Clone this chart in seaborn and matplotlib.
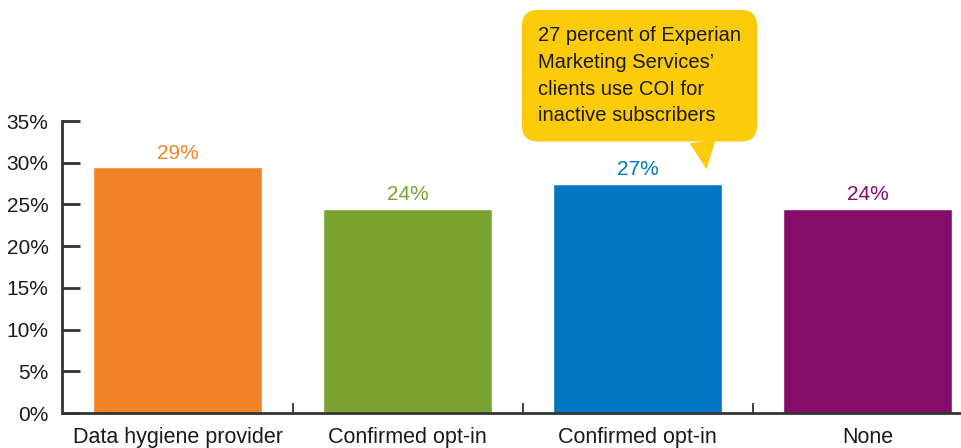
import numpy as np
import pandas as pd
import matplotlib.pyplot as plt
import seaborn as sns

# Data
categories = ['Data hygiene provider', 'Confirmed opt-in', 'Confirmed opt-in', 'None']
values = [29.5, 24.5, 27.5, 24.5]
value_labels = ['29%', '24%', '27%', '24%']
colors = ['#F28226', '#7AA332', '#0077C0', '#850C6A']
yticks = [0, 5, 10, 15, 20, 25, 30, 35]
callout = "27 percent of Experian\nMarketing Services\u2019\nclients use COI for\ninactive subscribers"

sns.set_style('white')
plt.rcParams['font.family'] = ['Liberation Sans', 'DejaVu Sans']

df = pd.DataFrame({'pos': np.arange(len(values)), 'value': values})

fig = plt.figure(figsize=(9.61, 4.48), dpi=100)
ax = fig.add_axes([62.5 / 961, 35 / 448, 898.5 / 961, 292 / 448])

sns.barplot(data=df, x='pos', y='value', hue='pos', palette=colors,
            legend=False, width=0.735, saturation=1, ax=ax)

for cont, lab, col in zip(ax.containers, value_labels, colors):
    ax.bar_label(cont, labels=[lab], padding=3, color=col, fontsize=15)

ax.set_xlim(-0.5, 3.406)
ax.set_ylim(0, 35)
ax.set_yticks(yticks, [f'{t}%' for t in yticks])
ax.set_xticks(range(len(categories)), categories)
ax.set_xticks([0.5, 1.5, 2.5], minor=True)
ax.tick_params(axis='x', which='major', bottom=True, length=0, labelsize=15.5, pad=10,
               colors='#1a1a1a')
ax.tick_params(axis='x', which='minor', bottom=True, direction='in', length=7, width=1.3,
               color='#333333')
ax.tick_params(axis='y', left=True, direction='in', length=13, width=2, color='#333333',
               labelsize=15, pad=10, labelcolor='#1a1a1a')
ax.set_xlabel('')
ax.set_ylabel('')
sns.despine(ax=ax, top=True, right=True)
for s in ['left', 'bottom']:
    ax.spines[s].set_linewidth(2)
    ax.spines[s].set_color('#333333')

ax.annotate(callout, xy=(2.30, 29.2), xycoords='data',
            xytext=(538, 422), textcoords='figure pixels',
            ha='left', va='top', fontsize=14.5, color='#1a1a1a', linespacing=1.52,
            bbox=dict(boxstyle='round,pad=0.8,rounding_size=0.8', fc='#FBCB0C', ec='none'),
            arrowprops=dict(arrowstyle='wedge,tail_width=1.3', fc='#FBCB0C', ec='none',
                            relpos=(0.8, 0), shrinkA=0, shrinkB=0),
            annotation_clip=False)

fig.savefig('out.png', dpi=100)
